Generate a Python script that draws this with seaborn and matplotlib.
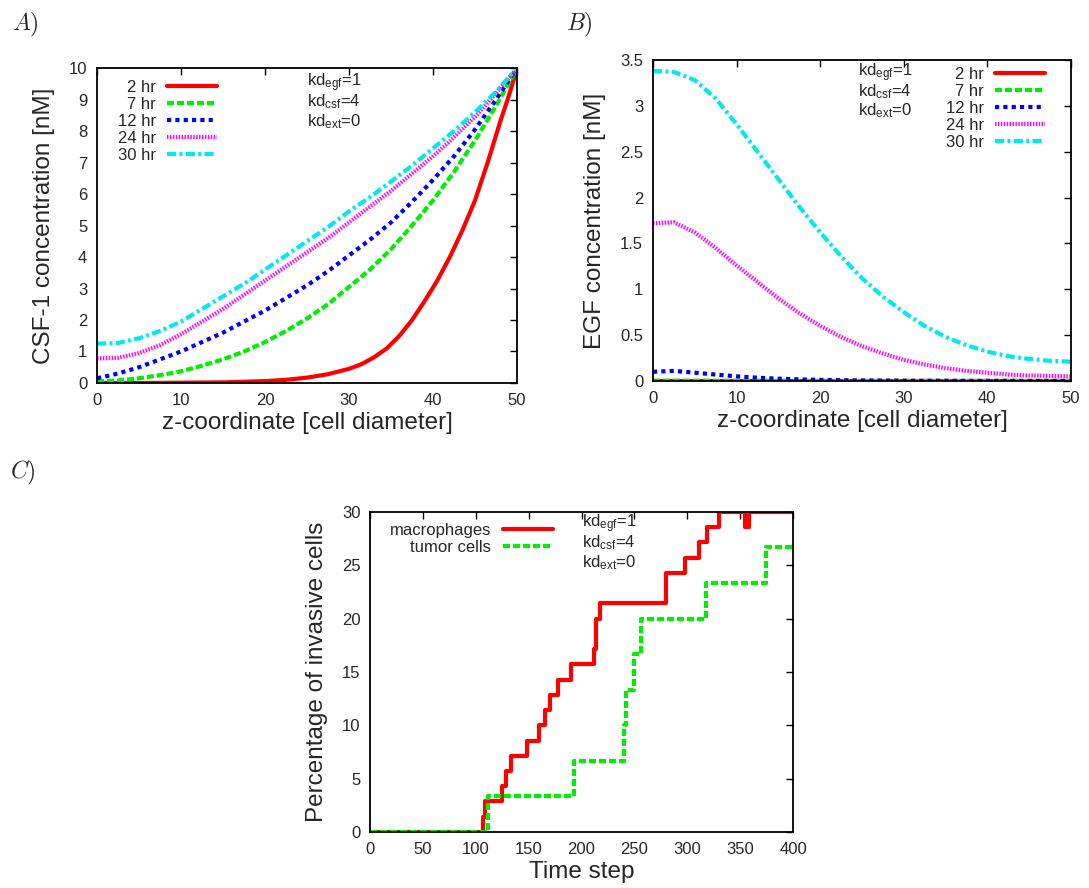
import matplotlib
matplotlib.use('Agg')
import matplotlib.pyplot as plt
import seaborn as sns

sns.set_style('white')
plt.rcParams['font.family'] = ['Liberation Sans', 'DejaVu Sans']
plt.rcParams['mathtext.fontset'] = 'custom'
plt.rcParams['mathtext.rm'] = 'Liberation Sans'
plt.rcParams['mathtext.it'] = 'Liberation Sans:italic'

# ---- data ----
z = [0, 2.5, 5, 7.5, 10, 12.5, 15, 17.5, 20, 22.5, 25, 27.5, 30, 32.5, 35,
     37.5, 40, 42.5, 45, 47.5, 50]
hours = ['2 hr', '7 hr', '12 hr', '24 hr', '30 hr']

z_2hr = [0, 5, 10, 15, 20, 22.5, 25, 27.5, 30, 31.5, 33, 34.5, 36, 37.5, 39,
         40.5, 42, 43.5, 45, 46.5, 48, 49, 50]
csf_2hr = [0, 0, 0.01, 0.02, 0.06, 0.1, 0.17, 0.28, 0.45, 0.6, 0.82, 1.1,
           1.5, 2.0, 2.6, 3.25, 4.0, 4.85, 5.8, 7.0, 8.3, 9.1, 10]
csf_7hr = [0.05, 0.08, 0.15, 0.25, 0.37, 0.55, 0.75, 1.0, 1.3, 1.65, 2.05, 2.5,
           3.05, 3.6, 4.25, 5.0, 5.8, 6.7, 7.7, 8.8, 10]
csf_12hr = [0.15, 0.3, 0.5, 0.75, 1.0, 1.3, 1.6, 1.95, 2.3, 2.7, 3.1, 3.55,
            4.05, 4.55, 5.1, 5.75, 6.45, 7.2, 8.05, 9.0, 10]
csf_24hr = [0.78, 0.8, 0.95, 1.2, 1.55, 1.95, 2.35, 2.8, 3.25, 3.7, 4.15, 4.6,
            5.1, 5.6, 6.1, 6.65, 7.2, 7.8, 8.45, 9.2, 10]
csf_30hr = [1.25, 1.27, 1.42, 1.65, 1.95, 2.35, 2.75, 3.15, 3.6, 4.05, 4.5,
            4.95, 5.45, 5.9, 6.4, 6.9, 7.45, 8.0, 8.6, 9.25, 10]

egf_2hr = [0] * 21
egf_7hr = [0.003, 0.003, 0.002, 0.002, 0.001, 0.001, 0.001, 0, 0, 0, 0, 0, 0,
           0, 0, 0, 0, 0, 0, 0, 0]
egf_12hr = [0.1, 0.11, 0.09, 0.07, 0.05, 0.035, 0.025, 0.017, 0.012, 0.008,
            0.006, 0.004, 0.003, 0.002, 0.002, 0.001, 0.001, 0.001, 0, 0, 0]
egf_24hr = [1.72, 1.73, 1.62, 1.45, 1.26, 1.08, 0.9, 0.74, 0.6, 0.48, 0.38,
            0.3, 0.23, 0.18, 0.14, 0.11, 0.09, 0.07, 0.06, 0.055, 0.05]
egf_30hr = [3.38, 3.37, 3.28, 3.08, 2.8, 2.5, 2.2, 1.9, 1.62, 1.36, 1.12, 0.92,
            0.75, 0.6, 0.48, 0.39, 0.32, 0.27, 0.24, 0.22, 0.21]

t_mac = [0, 107, 109, 125, 129, 133, 148, 160, 165, 170, 178, 190, 212, 214,
         217, 280, 298, 311, 319, 330, 355, 358, 400]
p_mac = [0, 1.43, 2.86, 4.29, 5.71, 7.14, 8.57, 10.0, 11.43, 12.86, 14.29,
         15.71, 17.14, 20.0, 21.43, 24.29, 25.71, 27.14, 28.57, 30.0, 28.57,
         30.0, 30.0]
t_tum = [0, 112, 193, 240, 242, 250, 256, 318, 374, 400]
p_tum = [0, 3.33, 6.67, 10.0, 13.33, 16.67, 20.0, 23.33, 26.67, 26.67]

kd_labels = [r'kd$_{\mathrm{egf}}$=1', r'kd$_{\mathrm{csf}}$=4',
             r'kd$_{\mathrm{ext}}$=0']

colors = ['#ff0000', '#00ee00', '#0000ff', '#ff00ff', '#00e8f0']
patterns = [None, (1.7, 0.7), (1, 1), (0.35, 0.35), (2.2, 0.8, 0.7, 0.8)]


def style_axes(ax):
    ax.tick_params(direction='in', top=True, right=True, length=5, width=1,
                   labelsize=12, color='black', pad=7)
    for s in ax.spines.values():
        s.set_color('black')
        s.set_linewidth(1.3)


def add_kd(ax, x, ys):
    for lab, y in zip(kd_labels, ys):
        ax.text(x, y, lab, transform=ax.transAxes, fontsize=12,
                va='baseline', ha='left')


def right_legend(ax, **kw):
    leg = ax.legend(frameon=False, markerfirst=False, fontsize=12,
                    handlelength=3.0, handletextpad=0.7, labelspacing=0.12,
                    borderaxespad=0, **kw)
    for col in leg._legend_handle_box.get_children():
        col.align = 'right'
    return leg


fig = plt.figure(figsize=(10.89, 8.88), dpi=100)
axA = fig.add_axes([0.0891, 0.5687, 0.3857, 0.3547])
axB = fig.add_axes([0.5996, 0.571, 0.3838, 0.3615])
axC = fig.add_axes([0.3398, 0.0631, 0.3884, 0.3604])

# panel A
zs = [z_2hr, z, z, z, z]
for h, x, y, c, p in zip(hours, zs,
                         [csf_2hr, csf_7hr, csf_12hr, csf_24hr, csf_30hr],
                         colors, patterns):
    sns.lineplot(x=x, y=y, ax=axA, color=c, lw=3, label=h, sort=False,
                 estimator=None)
    if p is not None:
        axA.lines[-1].set_linestyle((0, p))
axA.set_xlim(0, 50)
axA.set_ylim(0, 10)
axA.set_xticks(range(0, 51, 10))
axA.set_yticks(range(0, 11))
axA.set_xlabel('z-coordinate [cell diameter]', fontsize=17.5, labelpad=3)
axA.set_ylabel('CSF-1 concentration [nM]', fontsize=17.5, labelpad=10)
style_axes(axA)
right_legend(axA, loc='upper left', bbox_to_anchor=(0.033, 0.984))
add_kd(axA, 0.5, [0.943, 0.879, 0.816])

# panel B
for h, y, c, p in zip(hours, [egf_2hr, egf_7hr, egf_12hr, egf_24hr, egf_30hr],
                      colors, patterns):
    sns.lineplot(x=z, y=y, ax=axB, color=c, lw=3, label=h, sort=False,
                 estimator=None)
    if p is not None:
        axB.lines[-1].set_linestyle((0, p))
axB.set_xlim(0, 50)
axB.set_ylim(0, 3.5)
axB.set_xticks(range(0, 51, 10))
axB.set_yticks([0, 0.5, 1, 1.5, 2, 2.5, 3, 3.5])
axB.set_yticklabels(['0', '0.5', '1', '1.5', '2', '2.5', '3', '3.5'])
axB.set_xlabel('z-coordinate [cell diameter]', fontsize=17.5, labelpad=3)
axB.set_ylabel('EGF concentration [nM]', fontsize=17.5, labelpad=10)
style_axes(axB)
right_legend(axB, loc='upper right', bbox_to_anchor=(0.955, 1.0))
add_kd(axB, 0.49, [0.95, 0.888, 0.826])

# panel C
sns.lineplot(x=t_mac, y=p_mac, ax=axC, color=colors[0], lw=3,
             label='macrophages', sort=False, estimator=None,
             drawstyle='steps-post')
sns.lineplot(x=t_tum, y=p_tum, ax=axC, color=colors[1], lw=3,
             label='tumor cells', sort=False, estimator=None,
             drawstyle='steps-post')
axC.lines[-1].set_linestyle((0, patterns[1]))
axC.set_xlim(0, 400)
axC.set_ylim(0, 30)
axC.set_xticks(range(0, 401, 50))
axC.set_yticks(range(0, 31, 5))
axC.set_xlabel('Time step', fontsize=17.5, labelpad=3)
axC.set_ylabel('Percentage of invasive cells', fontsize=17.5, labelpad=10)
style_axes(axC)
right_legend(axC, loc='upper left', bbox_to_anchor=(0.031, 0.9875))
add_kd(axC, 0.5, [0.953, 0.891, 0.828])

for lab, x, y in [('A)', 0.011, 0.972), ('B)', 0.52, 0.972), ('C)', 0.009, 0.467)]:
    fig.text(x, y, '$' + lab + '$', fontsize=17, math_fontfamily='cm',
             va='center', ha='left')

fig.savefig('out.png', dpi=100)
